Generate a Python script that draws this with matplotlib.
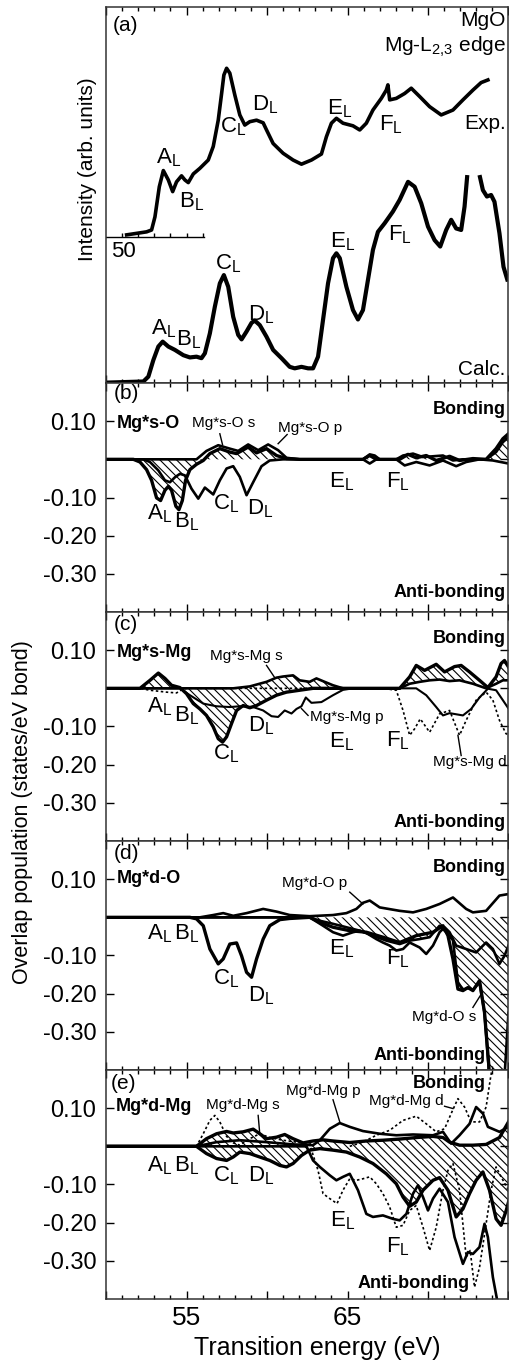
import numpy as np
import matplotlib
matplotlib.use('Agg')
import matplotlib.pyplot as plt
from matplotlib.ticker import MultipleLocator, NullLocator

plt.rcParams['font.family'] = ['Liberation Sans', 'DejaVu Sans']
plt.rcParams['mathtext.fontset'] = 'custom'
plt.rcParams['mathtext.rm'] = 'Liberation Sans'
plt.rcParams['mathtext.it'] = 'Liberation Sans:italic'
plt.rcParams['mathtext.bf'] = 'Liberation Sans:bold'
plt.rcParams['hatch.linewidth'] = 0.8

# ---------------- (a) spectra (arb. units) ----------------
exp_E = [51.28, 52.52, 52.83, 53.04, 53.31, 53.56, 53.87, 54.14, 54.38, 54.69, 54.90, 55.11,
         55.42, 55.83, 56.35, 56.66, 56.97, 57.18, 57.32, 57.49, 57.69, 58.00, 58.31, 58.62,
         58.93, 59.35, 59.76, 59.97, 60.38, 61.00, 61.62, 62.14, 62.76, 63.38, 63.69, 64.00,
         64.31, 64.72, 65.34, 65.76, 66.17, 66.58, 67.10, 67.41, 67.51, 67.62, 68.03, 68.55,
         68.96, 69.48, 70.10, 70.82, 71.55, 72.17, 72.79, 73.30, 73.72]
exp_I = [0.394, 0.402, 0.407, 0.442, 0.522, 0.565, 0.540, 0.509, 0.535, 0.551, 0.540, 0.533,
         0.556, 0.571, 0.593, 0.629, 0.699, 0.770, 0.819, 0.837, 0.824, 0.766, 0.713, 0.686,
         0.695, 0.699, 0.692, 0.673, 0.637, 0.611, 0.593, 0.582, 0.593, 0.609, 0.655, 0.691,
         0.704, 0.691, 0.684, 0.673, 0.691, 0.726, 0.757, 0.779, 0.793, 0.753, 0.757, 0.770,
         0.784, 0.762, 0.735, 0.713, 0.726, 0.753, 0.779, 0.799, 0.806]

calc_E = [50.00, 52.32, 52.63, 52.94, 53.25, 53.52, 53.87, 54.28, 54.80, 55.21, 55.62, 55.93,
          56.14, 56.45, 56.76, 57.07, 57.32, 57.59, 57.90, 58.21, 58.42, 58.73, 59.04, 59.24,
          59.55, 59.97, 60.38, 60.90, 61.41, 61.72, 62.14, 62.55, 62.86, 63.17, 63.48, 63.79,
          64.10, 64.31, 64.52, 64.93, 65.34, 65.65, 65.96, 66.27, 66.58, 66.89, 67.31, 67.82,
          68.24, 68.76, 69.17, 69.58, 70.00, 70.41, 70.76, 71.13, 71.44, 71.75, 72.06, 72.27,
          72.44, 72.80, 73.20, 73.41, 73.66, 73.92, 74.13, 74.44, 74.69, 74.96]
calc_I = [0.001, 0.004, 0.017, 0.061, 0.097, 0.110, 0.097, 0.088, 0.074, 0.068, 0.070, 0.066,
          0.079, 0.132, 0.203, 0.265, 0.287, 0.256, 0.176, 0.128, 0.116, 0.137, 0.160, 0.166,
          0.154, 0.123, 0.088, 0.066, 0.043, 0.039, 0.043, 0.039, 0.039, 0.070, 0.168, 0.265,
          0.332, 0.345, 0.332, 0.256, 0.194, 0.169, 0.194, 0.274, 0.354, 0.402, 0.425, 0.456,
          0.487, 0.535, 0.522, 0.478, 0.416, 0.380, 0.363, 0.407, 0.434, 0.411, 0.407, 0.469,
          0.553, np.nan, 0.553, 0.513, 0.496, 0.500, 0.482, 0.398, 0.309, 0.270]

exp_axis_ticks = [51, 52, 53, 54, 55, 56]

# ---------------- (b) Mg*s-O ----------------
b_tot_E = [50.00, 51.70, 52.11, 52.52, 52.83, 53.14, 53.39, 53.66, 53.87, 54.07, 54.34, 54.53,
           54.74, 54.94, 55.21, 55.62, 56.04, 56.45, 57.07, 57.69, 58.11, 58.83, 59.35, 59.97,
           60.59, 61.21, 62.03, 65.96, 66.38, 66.79, 67.20, 68.24, 68.76, 69.27, 69.89, 70.51,
           71.34, 71.96, 72.79, 73.61, 74.23, 74.65, 75.00]
b_tot_v = [0, 0, -0.007, -0.027, -0.055, -0.101, -0.108, -0.081, -0.071, -0.081, -0.123, -0.132,
           -0.108, -0.055, -0.027, -0.013, -0.003, 0.015, 0.028, 0.019, 0.015, 0.032, 0.017, 0.028,
           0.010, 0.002, 0, 0, 0.010, 0, 0, 0, 0.013, 0.004, 0.010, -0.003,
           0.008, -0.003, 0.002, 0, 0.028, 0.054, 0.067]
b_s_E = [50.00, 55.62, 56.24, 56.97, 57.69, 58.21, 58.83, 59.45, 60.07, 60.69, 61.21, 62.03,
         65.96, 66.38, 66.69, 67.00, 68.03, 68.45, 69.07, 69.69, 70.31, 70.93, 71.55, 72.17,
         73.61, 74.23, 74.65, 75.00]
b_s_v = [0, 0, 0.022, 0.037, 0.028, 0.022, 0.039, 0.024, 0.039, 0.024, 0.004, 0,
         0, 0.013, 0.010, 0, 0, 0.010, 0.015, 0.006, 0.008, 0.010, -0.003, 0,
         0, 0.019, 0.045, 0.058]
b_p_E = [50.00, 52.32, 52.73, 53.25, 53.66, 53.97, 54.28, 54.59, 54.90, 55.31, 55.73, 56.14,
         56.66, 57.07, 57.49, 57.90, 58.31, 58.73, 59.14, 59.66, 60.17, 61.00, 65.96, 66.38,
         66.79, 68.03, 68.55, 69.27, 70.10, 70.93, 71.75, 72.37, 73.20, 74.03, 75.00]
b_p_v = [0, 0, -0.007, -0.029, -0.055, -0.060, -0.047, -0.038, -0.042, -0.077, -0.103, -0.074,
         -0.092, -0.055, -0.024, -0.018, -0.046, -0.094, -0.060, -0.018, -0.003, 0, 0, -0.011,
         0, 0, -0.016, -0.007, -0.016, -0.003, -0.018, -0.007, 0, -0.003, -0.011]

# ---------------- (c) Mg*s-Mg ----------------
c_tot_E = [50.00, 52.11, 52.73, 53.25, 53.66, 54.07, 54.59, 55.00, 55.42, 55.83, 56.24, 56.66,
           56.97, 57.24, 57.49, 57.80, 58.11, 58.52, 58.93, 59.35, 59.97, 60.59, 61.21, 62.03,
           62.86, 64.10, 68.24, 68.86, 69.27, 69.79, 70.51, 71.03, 71.65, 72.06, 72.58, 73.20,
           73.72, 74.23, 74.54, 74.75, 75.00]
c_tot_v = [0, 0, 0.021, 0.040, 0.026, 0.008, 0.002, -0.014, -0.040, -0.054, -0.071, -0.101,
           -0.132, -0.141, -0.127, -0.092, -0.058, -0.045, -0.051, -0.045, -0.031, -0.018, -0.010, -0.005,
           0, 0, 0, 0.030, 0.060, 0.047, 0.063, 0.043, 0.057, 0.060, 0.043, 0.021,
           0.002, 0.030, 0.065, 0.073, 0.056]
c_s_E = [50.00, 57.90, 58.93, 59.97, 60.59, 61.00, 61.62, 62.03, 62.65, 63.07, 63.58, 64.10,
         64.72, 68.24, 68.86, 69.48, 70.10, 70.72, 71.34, 71.96, 72.79, 73.61, 74.23, 74.65, 75.00]
c_s_v = [0, 0, 0.005, 0.017, 0.028, 0.031, 0.034, 0.021, 0.017, 0.026, 0.017, 0.008,
         0, 0, 0.012, 0.017, 0.021, 0.023, 0.019, 0.021, 0.012, 0, 0.012, 0.021, 0.021]
c_p_E = [50.00, 54.59, 55.21, 56.04, 56.86, 57.69, 58.31, 59.14, 59.76, 60.28, 60.69, 61.10,
         61.52, 61.83, 62.14, 62.41, 62.76, 63.38, 64.10, 64.72, 65.34, 69.27, 69.89, 70.51,
         70.93, 71.34, 72.17, 72.68, 73.20, 73.72, 74.23, 74.65, 75.00]
c_p_v = [0, 0, -0.018, -0.040, -0.047, -0.049, -0.047, -0.049, -0.058, -0.073, -0.075, -0.058,
         -0.066, -0.054, -0.047, -0.024, -0.038, -0.036, -0.018, -0.004, 0, 0, -0.018, -0.049,
         -0.071, -0.065, -0.071, -0.054, -0.024, -0.001, -0.005, -0.031, -0.053]
c_d_E = [50.00, 52.11, 52.73, 53.76, 54.38, 54.69, 55.00, 67.20, 68.03, 68.45, 68.86, 69.17,
         69.52, 70.10, 70.72, 71.34, 71.96, 72.37, 72.99, 73.61, 74.03, 74.44, 74.85, 75.00]
c_d_v = [0, 0, -0.005, -0.010, -0.012, -0.004, 0, 0, -0.005, -0.058, -0.123, -0.106,
         -0.080, -0.115, -0.067, -0.058, -0.123, -0.084, -0.031, -0.010, -0.031, -0.084, -0.119, -0.121]

# ---------------- (d) Mg*d-O ----------------
d_tot_E = [50.00, 62.65, 63.28, 64.10, 64.93, 65.76, 66.58, 67.41, 68.24, 68.86, 69.48, 70.10,
           70.72, 71.13, 71.55, 71.86, 72.17, 72.48, 72.79, 73.20, 73.51, 73.78, 74.00, 74.50,
           74.75, 75.00]
d_tot_v = [0, 0, -0.009, -0.017, -0.026, -0.035, -0.048, -0.061, -0.070, -0.061, -0.057, -0.052,
           -0.022, -0.039, -0.060, -0.170, -0.190, -0.185, -0.190, -0.170, -0.250, -0.400, -0.500, -0.500,
           -0.420, -0.250]
d_s_E = [50.00, 55.21, 55.62, 56.04, 56.45, 56.97, 57.28, 57.69, 58.11, 58.42, 58.73, 59.04,
         59.35, 59.76, 60.17, 60.80, 61.41, 62.65, 63.28, 64.10, 65.14, 66.17, 67.20, 68.24,
         69.27, 70.31, 70.93, 71.24, 71.55, 71.86, 72.17, 72.48, 72.79, 73.20, 73.51, 73.78, 73.92]
d_s_v = [0, 0, -0.004, -0.022, -0.083, -0.122, -0.109, -0.070, -0.067, -0.101, -0.144, -0.157,
         -0.109, -0.057, -0.022, -0.006, -0.003, 0, -0.013, -0.026, -0.035, -0.039, -0.052, -0.066,
         -0.048, -0.039, -0.022, -0.048, -0.109, -0.188, -0.192, -0.184, -0.192, -0.166, -0.249, -0.389, -0.550]
d_p_E = [50.00, 55.83, 56.66, 57.28, 57.90, 58.73, 59.76, 60.59, 61.41, 62.65, 64.10, 64.93,
         65.55, 65.96, 66.38, 67.00, 68.24, 69.07, 69.89, 70.72, 71.55, 72.37, 72.79, 73.61, 74.44, 75.00]
d_p_v = [0, 0, 0.006, 0.011, 0.004, 0.011, 0.022, 0.015, 0.006, 0.003, 0.006, 0.011,
         0.022, 0.038, 0.044, 0.026, 0.017, 0.013, 0.022, 0.035, 0.052, 0.022, 0.013, 0.017, 0.057, 0.061]
d_x_E = [50.00, 62.65, 63.48, 64.10, 64.72, 65.34, 65.76, 66.17, 66.79, 67.20, 67.62, 68.03,
         68.45, 68.86, 69.48, 69.89, 70.31, 70.72, 71.03, 71.34, 71.75, 72.37, 72.99, 73.61,
         74.03, 74.44, 74.75, 75.00]
d_x_v = [0, 0, -0.022, -0.039, -0.048, -0.039, -0.035, -0.041, -0.057, -0.066, -0.074, -0.087,
         -0.083, -0.066, -0.079, -0.096, -0.074, -0.039, -0.026, -0.039, -0.074, -0.083, -0.092, -0.066,
         -0.083, -0.122, -0.101, -0.074]

# ---------------- (e) Mg*d-Mg ----------------
e_up_E = [50.00, 55.62, 56.24, 56.87, 57.49, 57.90, 58.52, 59.14, 59.55, 59.97, 60.59, 61.10,
          61.62, 62.24, 62.86, 63.48, 64.10, 65.14, 66.17, 67.20, 68.24, 69.27, 70.31, 70.93,
          71.34, 71.96, 72.79, 73.61, 74.44, 75.00]
e_up_v = [0, 0, 0.020, 0.033, 0.039, 0.035, 0.038, 0.045, 0.033, 0.020, 0.024, 0.031,
          0.020, 0.009, 0.014, 0.017, 0.014, 0.010, 0.014, 0.016, 0.019, 0.023, 0.026, 0.023,
          0.011, 0.003, 0.003, 0.005, 0.023, 0.064]
e_lo_E = [50.00, 55.62, 56.24, 56.87, 57.49, 57.90, 58.31, 58.93, 59.55, 60.17, 60.79, 61.21,
          61.62, 62.14, 62.65, 63.28, 64.10, 64.93, 65.76, 66.58, 67.41, 68.03, 68.45, 68.86,
          69.27, 69.69, 70.31, 70.72, 71.24, 71.75, 72.17, 72.58, 72.99, 73.41, 73.82, 74.23,
          74.54, 74.86, 75.00]
e_lo_v = [0, 0, -0.019, -0.032, -0.037, -0.028, -0.015, -0.019, -0.028, -0.037, -0.050, -0.054,
          -0.045, -0.024, -0.010, -0.006, -0.010, -0.015, -0.028, -0.045, -0.072, -0.098, -0.133, -0.157,
          -0.146, -0.115, -0.089, -0.082, -0.115, -0.185, -0.164, -0.124, -0.089, -0.067, -0.115, -0.190,
          -0.207, -0.168, -0.146]
e_deep_E = [50.00, 62.45, 62.86, 63.28, 63.90, 64.31, 64.72, 65.14, 65.65, 66.17, 66.58, 67.20,
            67.82, 68.24, 68.66, 69.07, 69.38, 69.69, 70.00, 70.31, 70.72, 71.24, 71.65, 72.17,
            72.48, 72.79, 73.20, 73.51, 73.72, 74.03, 74.34]
e_deep_v = [0, 0, -0.037, -0.054, -0.076, -0.089, -0.080, -0.072, -0.115, -0.177, -0.185, -0.181,
            -0.190, -0.194, -0.177, -0.124, -0.102, -0.133, -0.168, -0.137, -0.111, -0.146, -0.238, -0.308,
            -0.277, -0.282, -0.264, -0.203, -0.238, -0.343, -0.413]
e_p_E = [50.00, 55.62, 56.87, 58.31, 59.97, 61.62, 62.86, 63.28, 63.90, 64.52, 65.14, 65.96,
         67.00, 68.03, 69.07, 70.31, 70.93, 71.44, 71.96, 72.58, 72.99, 73.41, 73.72, 74.44, 75.00]
e_p_v = [0, 0, 0.011, 0.016, 0.011, 0.005, 0.003, 0.016, 0.046, 0.061, 0.051, 0.040,
         0.033, 0.029, 0.031, 0.029, 0.038, 0.007, 0.029, 0.059, 0.103, 0.086, 0.051, 0.038, 0.051]
e_s_E = [50.00, 55.62, 56.04, 56.45, 56.76, 57.07, 57.49, 57.90, 58.31, 58.93, 59.55, 60.17,
         61.00, 61.83, 62.65, 63.17, 63.48, 63.90, 64.35, 64.72, 65.14, 65.55, 65.96, 66.38,
         66.79, 67.20, 67.62, 68.03, 68.45, 68.86, 69.27, 69.69, 70.10, 70.51, 70.93, 71.24,
         71.55, 71.96, 72.37, 72.62, 72.89, 73.20, 73.61, 73.92, 74.23, 74.54, 75.00]
e_s_v = [0, 0, 0.033, 0.068, 0.081, 0.064, 0.026, 0.009, 0.003, 0.020, 0.033, 0.023,
         0.016, 0.011, 0.005, -0.063, -0.124, -0.137, -0.150, -0.115, -0.085, -0.089, -0.085, -0.080,
         -0.098, -0.124, -0.159, -0.212, -0.207, -0.168, -0.155, -0.212, -0.273, -0.212, -0.115, -0.063,
         -0.045, -0.115, -0.290, -0.273, -0.369, -0.317, -0.203, -0.115, -0.054, -0.080, -0.115]
e_d_E = [65.14, 65.96, 66.79, 67.62, 68.45, 69.27, 69.89, 70.51, 71.03, 71.44, 71.86, 72.27,
         72.68, 73.20, 73.61, 73.86, 74.03]
e_d_v = [0, 0.011, 0.029, 0.042, 0.068, 0.079, 0.059, 0.038, 0.046, 0.086, 0.125, 0.103,
         0.064, 0.064, 0.103, 0.173, 0.217]

y_ticks = [0.10, 0.0, -0.10, -0.20, -0.30]
y_ticklabels = ['0.10', '', '-0.10', '-0.20', '-0.30']
x_ticks = [50, 55, 60, 65, 70, 75]
x_ticklabels = ['', '55', '', '65', '', '']

peak_names = ['A', 'B', 'C', 'D', 'E', 'F']

# ---------------- figure ----------------
fig = plt.figure(figsize=(5.09, 13.63), dpi=100)
L, W = 0.2083, 0.7907
ax_a = fig.add_axes([L, 0.71900, W, 0.27586])
ax_b = fig.add_axes([L, 0.55099, W, 0.16801])
ax_c = fig.add_axes([L, 0.38298, W, 0.16801])
ax_d = fig.add_axes([L, 0.21497, W, 0.16801])
ax_e = fig.add_axes([L, 0.04696, W, 0.16801])

THICK, MED, THIN = 2.4, 1.9, 1.5
HATCH = '\\\\\\\\'
PK = 16

for ax in [ax_a, ax_b, ax_c, ax_d, ax_e]:
    ax.set_xlim(50, 75)
    ax.set_xticks(x_ticks)
    ax.xaxis.set_minor_locator(MultipleLocator(1))
    ax.tick_params(which='both', direction='in', top=True, right=True, width=1.0)
    ax.tick_params(which='major', length=6, labelsize=19, pad=5)
    ax.tick_params(which='minor', length=3)
    for s in ax.spines.values():
        s.set_linewidth(1.1)
        s.set_color('#333333')
    if ax is ax_e:
        ax.set_xticklabels(x_ticklabels)
    else:
        ax.set_xticklabels([''] * len(x_ticks))
    if ax is not ax_a:
        ax.set_ylim(-0.40, 0.20)
        ax.set_yticks(y_ticks)
        ax.set_yticklabels(y_ticklabels)
        ax.tick_params(axis='y', labelsize=17, pad=7)
        ax.yaxis.set_minor_locator(NullLocator())
    if ax in (ax_b, ax_c, ax_d):
        ax.text(0.993, 0.885, 'Bonding', transform=ax.transAxes, ha='right', va='center',
                fontsize=13, fontweight='bold')


def peaks(ax, pos, fs=PK):
    for name, (x, y) in zip(peak_names, pos):
        ax.text(x, y, r'$\mathrm{%s_L}$' % name, ha='center', va='center', fontsize=fs)


def pointer(ax, x0, y0, x1, y1):
    ax.plot([x0, x1], [y0, y1], color='black', lw=1.0)


# (a)
ax_a.set_ylim(0, 1)
ax_a.set_yticks([])
ax_a.plot(exp_E, exp_I, color='black', lw=2.6)
ax_a.plot(calc_E, calc_I, color='black', lw=3.0, solid_capstyle='butt')
ax_a.plot([50, 56.08], [0.387, 0.387], color='black', lw=1.0)
ax_a.vlines(exp_axis_ticks, 0.387, 0.398, color='black', lw=1.0)
ax_a.text(51.1, 0.349, '50', ha='center', va='center', fontsize=16)
ax_a.text(50.4, 0.952, '(a)', ha='left', va='center', fontsize=15)
ax_a.text(0.993, 0.965, 'MgO', transform=ax_a.transAxes, ha='right', va='center', fontsize=15)
ax_a.text(0.993, 0.894, r'Mg-L$_{2{,}3}$ edge', transform=ax_a.transAxes, ha='right', va='center', fontsize=15)
ax_a.text(0.993, 0.691, 'Exp.', transform=ax_a.transAxes, ha='right', va='center', fontsize=15)
ax_a.text(0.993, 0.036, 'Calc.', transform=ax_a.transAxes, ha='right', va='center', fontsize=15)
peaks(ax_a, [(53.87, 0.598), (55.31, 0.482), (57.90, 0.682), (59.86, 0.739), (64.52, 0.730), (67.72, 0.686)])
peaks(ax_a, [(53.60, 0.145), (55.11, 0.114), (57.59, 0.318), (59.66, 0.181), (64.72, 0.376), (68.24, 0.394)])

# (b)
ax_b.fill_between(b_tot_E, b_tot_v, 0, facecolor='none', edgecolor='black', hatch=HATCH, lw=0)
ax_b.plot(b_p_E, b_p_v, color='black', lw=MED)
ax_b.plot(b_s_E, b_s_v, color='black', lw=MED)
ax_b.plot(b_tot_E, b_tot_v, color='black', lw=THICK)
ax_b.text(50.5, 0.173, '(b)', ha='left', va='center', fontsize=15)
ax_b.text(50.66, 0.094, 'Mg*s-O', ha='left', va='center', fontsize=13, fontweight='bold')
ax_b.text(57.32, 0.094, 'Mg*s-O s', ha='center', va='center', fontsize=11)
ax_b.text(62.66, 0.081, 'Mg*s-O p', ha='center', va='center', fontsize=11)
pointer(ax_b, 57.07, 0.067, 57.24, 0.038)
pointer(ax_b, 61.25, 0.065, 60.69, 0.041)
ax_b.text(0.993, -0.35, 'Anti-bonding', transform=ax_b.get_yaxis_transform(), ha='right', va='center',
          fontsize=13, fontweight='bold')
peaks(ax_b, [(53.31, -0.143), (55.00, -0.164), (57.49, -0.116), (59.60, -0.129), (64.62, -0.059), (68.14, -0.059)])

# (c)
cE = np.union1d(c_tot_E, c_s_E)
ax_c.fill_between(cE, np.interp(cE, c_tot_E, c_tot_v), np.interp(cE, c_s_E, c_s_v),
                  facecolor='none', edgecolor='black', hatch=HATCH, lw=0)
ax_c.plot(c_d_E, c_d_v, color='black', lw=1.2, ls=(0, (1.5, 1.5)))
ax_c.plot(c_p_E, c_p_v, color='black', lw=THIN)
ax_c.plot(c_s_E, c_s_v, color='black', lw=MED)
ax_c.plot(c_tot_E, c_tot_v, color='black', lw=THICK)
ax_c.text(50.5, 0.168, '(c)', ha='left', va='center', fontsize=15)
ax_c.text(50.66, 0.095, 'Mg*s-Mg', ha='left', va='center', fontsize=13, fontweight='bold')
ax_c.text(58.73, 0.084, 'Mg*s-Mg s', ha='center', va='center', fontsize=11)
ax_c.text(62.66, -0.075, 'Mg*s-Mg p', ha='left', va='center', fontsize=11)
ax_c.text(74.9, -0.193, 'Mg*s-Mg d', ha='right', va='center', fontsize=11)
pointer(ax_c, 59.97, 0.060, 60.48, 0.028)
pointer(ax_c, 62.55, -0.071, 62.14, -0.053)
pointer(ax_c, 72.06, -0.176, 71.86, -0.123)
ax_c.text(0.993, -0.351, 'Anti-bonding', transform=ax_c.get_yaxis_transform(), ha='right', va='center',
          fontsize=13, fontweight='bold')
peaks(ax_c, [(53.31, -0.049), (55.00, -0.071), (57.49, -0.171), (59.66, -0.097), (64.62, -0.141), (68.14, -0.136)])

# (d)
ax_d.fill_between(d_tot_E, d_tot_v, 0, facecolor='none', edgecolor='black', hatch=HATCH, lw=0)
ax_d.plot(d_x_E, d_x_v, color='black', lw=MED)
ax_d.plot(d_p_E, d_p_v, color='black', lw=MED)
ax_d.plot(d_tot_E, d_tot_v, color='black', lw=MED)
ax_d.plot(d_s_E, d_s_v, color='black', lw=THICK)
ax_d.text(50.5, 0.166, '(d)', ha='left', va='center', fontsize=15)
ax_d.text(50.66, 0.101, 'Mg*d-O', ha='left', va='center', fontsize=13, fontweight='bold')
ax_d.text(62.97, 0.090, 'Mg*d-O p', ha='center', va='center', fontsize=11)
ax_d.text(71.03, -0.260, 'Mg*d-O s', ha='center', va='center', fontsize=11)
pointer(ax_d, 65.14, 0.066, 65.96, 0.035)
pointer(ax_d, 72.79, -0.236, 73.37, -0.197)
ax_d.text(73.6, -0.362, 'Anti-bonding', ha='right', va='center', fontsize=13, fontweight='bold')
peaks(ax_d, [(53.31, -0.044), (55.00, -0.044), (57.49, -0.162), (59.66, -0.206), (64.62, -0.083), (68.14, -0.109)])

# (e)
eE = np.union1d(e_up_E, e_lo_E)
ax_e.fill_between(eE, np.interp(eE, e_up_E, e_up_v), np.interp(eE, e_lo_E, e_lo_v),
                  facecolor='none', edgecolor='black', hatch=HATCH, lw=0)
ax_e.plot(e_s_E, e_s_v, color='black', lw=1.2, ls=(0, (1.5, 1.5)))
ax_e.plot(e_d_E, e_d_v, color='black', lw=1.2, ls=(0, (1.5, 1.5)))
ax_e.plot(e_p_E, e_p_v, color='black', lw=MED)
ax_e.plot(e_deep_E, e_deep_v, color='black', lw=MED)
ax_e.plot(e_lo_E, e_lo_v, color='black', lw=THICK)
ax_e.plot(e_up_E, e_up_v, color='black', lw=THICK)
ax_e.text(73.61, 0.164, 'Bonding', ha='right', va='center', fontsize=13, fontweight='bold')
ax_e.text(50.3, 0.164, '(e)', ha='left', va='center', fontsize=15)
ax_e.text(50.62, 0.105, 'Mg*d-Mg', ha='left', va='center', fontsize=13, fontweight='bold')
ax_e.text(58.52, 0.109, 'Mg*d-Mg s', ha='center', va='center', fontsize=11)
ax_e.text(63.48, 0.145, 'Mg*d-Mg p', ha='center', va='center', fontsize=11)
ax_e.text(68.65, 0.119, 'Mg*d-Mg d', ha='center', va='center', fontsize=11)
pointer(ax_e, 59.45, 0.081, 59.55, 0.033)
pointer(ax_e, 64.10, 0.122, 64.52, 0.064)
pointer(ax_e, 71.03, 0.105, 71.55, 0.099)
ax_e.text(72.58, -0.360, 'Anti-bonding', ha='right', va='center', fontsize=13, fontweight='bold')
peaks(ax_e, [(53.31, -0.050), (55.00, -0.050), (57.49, -0.076), (59.66, -0.076), (64.72, -0.194), (68.14, -0.264)])

fig.text(0.171, 0.876, 'Intensity (arb. units)', rotation=90, ha='center', va='center', fontsize=15)
fig.text(0.045, 0.404, 'Overlap population (states/eV bond)', rotation=90, ha='center', va='center', fontsize=15.5)
fig.text(0.624, 0.011, 'Transition energy (eV)', ha='center', va='center', fontsize=18)

fig.savefig('out.png', dpi=100)
print('saved')
